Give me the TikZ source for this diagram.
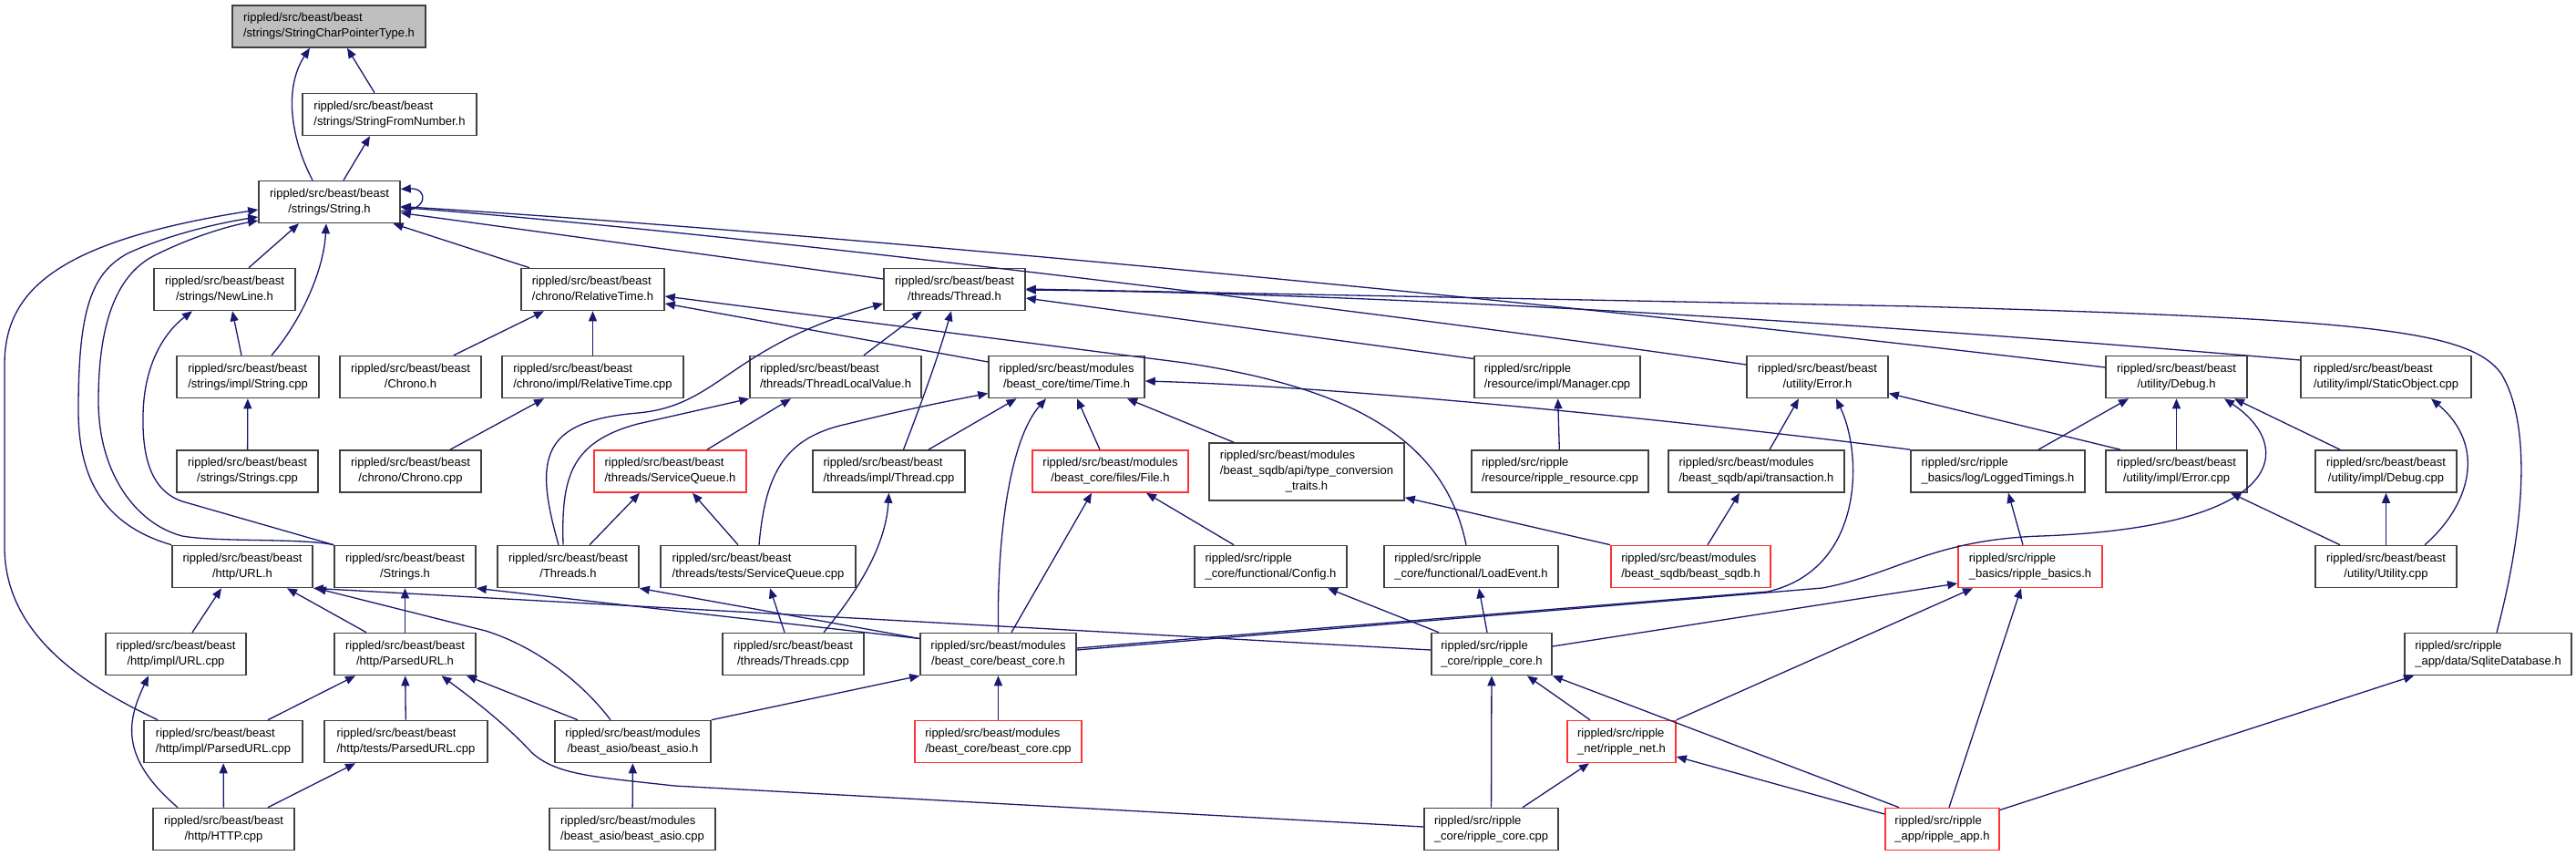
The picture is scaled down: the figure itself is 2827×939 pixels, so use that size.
\documentclass[tikz,border=0pt]{standalone}
\usepackage{fontspec}
\setmainfont{Liberation Sans}
\usetikzlibrary{calc,arrows.meta}
\definecolor{edgeblue}{HTML}{191970}
\definecolor{boxgray}{HTML}{404040}
\definecolor{rootgray}{HTML}{BFBFBF}
\definecolor{boxred}{HTML}{FF3333}
\newcommand\nodefont{\fontsize{13}{17}\selectfont}
\newcommand\nlab[2]{\begin{tabular}{@{}l@{}}#1\\\multicolumn{1}{@{}c@{}}{#2}\end{tabular}}
\newcommand\nlabt[3]{\begin{tabular}{@{}l@{}}#1\\\multicolumn{1}{@{}c@{}}{#2}\\\multicolumn{1}{@{}c@{}}{#3}\end{tabular}}
\tikzset{
  box/.style={draw=boxgray, line width=1.6pt, fill=white, inner xsep=5pt, inner ysep=2pt, minimum height=46pt, font=\nodefont, text=black},
  redbox/.style={box, draw=boxred},
  rootbox/.style={box, fill=rootgray},
  edge/.style={draw=edgeblue, line width=1.3pt, -{Triangle[length=11pt,width=9pt]}}
}
\begin{document}
\begin{tikzpicture}[x=1pt,y=-1pt]
\useasboundingbox (0,0) rectangle (2827,939);
% row 0-3
\node[rootbox, minimum width=212pt] (scpt) at (361,29) {\nlab{rippled/src/beast/beast}{/strings/StringCharPointerType.h}};
\node[box, minimum width=191pt] (sfn) at (427.5,125.5) {\nlab{rippled/src/beast/beast}{/strings/StringFromNumber.h}};
\node[box, minimum width=155pt] (strh) at (361.5,221.5) {\nlab{rippled/src/beast/beast}{/strings/String.h}};
\node[box, minimum width=155pt] (newline) at (246.5,317.5) {\nlab{rippled/src/beast/beast}{/strings/NewLine.h}};
\node[box, minimum width=157pt] (reltime) at (650.5,317.5) {\nlab{rippled/src/beast/beast}{/chrono/RelativeTime.h}};
\node[box, minimum width=155pt] (threadh) at (1047.5,317.5) {\nlab{rippled/src/beast/beast}{/threads/Thread.h}};
% row 4
\node[box, minimum width=156pt] (stringcpp) at (272,413.5) {\nlab{rippled/src/beast/beast}{/strings/impl/String.cpp}};
\node[box, minimum width=155pt] (chronoh) at (450.5,413.5) {\nlab{rippled/src/beast/beast}{/Chrono.h}};
\node[box, minimum width=199pt] (reltimecpp) at (650.5,413.5) {\nlab{rippled/src/beast/beast}{/chrono/impl/RelativeTime.cpp}};
\node[box, minimum width=188pt] (tlv) at (917,413.5) {\nlab{rippled/src/beast/beast}{/threads/ThreadLocalValue.h}};
\node[box, minimum width=171pt] (timeh) at (1170.5,413.5) {\nlab{rippled/src/beast/modules}{/beast\_core/time/Time.h}};
\node[box, minimum width=182pt] (manager) at (1709,413.5) {\nlab{rippled/src/ripple}{/resource/impl/Manager.cpp}};
\node[box, minimum width=155pt] (errorh) at (1994.5,413.5) {\nlab{rippled/src/beast/beast}{/utility/Error.h}};
\node[box, minimum width=155pt] (debugh) at (2388.5,413.5) {\nlab{rippled/src/beast/beast}{/utility/Debug.h}};
\node[box, minimum width=187pt] (staticobj) at (2618.5,413.5) {\nlab{rippled/src/beast/beast}{/utility/impl/StaticObject.cpp}};
% row 5
\node[box, minimum width=155pt] (stringscpp) at (271.5,517) {\nlab{rippled/src/beast/beast}{/strings/Strings.cpp}};
\node[box, minimum width=155pt] (chronocpp) at (450.5,517) {\nlab{rippled/src/beast/beast}{/chrono/Chrono.cpp}};
\node[redbox, minimum width=167pt] (svcqh) at (735.5,517) {\nlab{rippled/src/beast/beast}{/threads/ServiceQueue.h}};
\node[box, minimum width=167pt] (threadcpp) at (975.5,517) {\nlab{rippled/src/beast/beast}{/threads/impl/Thread.cpp}};
\node[redbox, minimum width=171pt] (fileh) at (1218.5,517) {\nlab{rippled/src/beast/modules}{/beast\_core/files/File.h}};
\node[box, minimum width=214pt, minimum height=63pt] (typeconv) at (1434,517.5) {\nlabt{rippled/src/beast/modules}{/beast\_sqdb/api/type\_conversion}{\_traits.h}};
\node[box, minimum width=194pt] (resource) at (1712,517) {\nlab{rippled/src/ripple}{/resource/ripple\_resource.cpp}};
\node[box, minimum width=193pt] (transaction) at (1927.5,517) {\nlab{rippled/src/beast/modules}{/beast\_sqdb/api/transaction.h}};
\node[box, minimum width=191pt] (logged) at (2192.5,517) {\nlab{rippled/src/ripple}{\_basics/log/LoggedTimings.h}};
\node[box, minimum width=155pt] (errorcpp) at (2388.5,517) {\nlab{rippled/src/beast/beast}{/utility/impl/Error.cpp}};
\node[box, minimum width=155pt] (debugcpp) at (2618.5,517) {\nlab{rippled/src/beast/beast}{/utility/impl/Debug.cpp}};
% row 6
\node[box, minimum width=154pt] (urlh) at (266,621.5) {\nlab{rippled/src/beast/beast}{/http/URL.h}};
\node[box, minimum width=155pt] (stringsh) at (444.5,621.5) {\nlab{rippled/src/beast/beast}{/Strings.h}};
\node[box, minimum width=155pt] (threadsh) at (623.5,621.5) {\nlab{rippled/src/beast/beast}{/Threads.h}};
\node[box, minimum width=214pt] (svcqcpp) at (832,621.5) {\nlab{rippled/src/beast/beast}{/threads/tests/ServiceQueue.cpp}};
\node[box, minimum width=167pt] (configh) at (1394.5,621.5) {\nlab{rippled/src/ripple}{\_core/functional/Config.h}};
\node[box, minimum width=191pt] (loadevent) at (1614.5,621.5) {\nlab{rippled/src/ripple}{\_core/functional/LoadEvent.h}};
\node[redbox, minimum width=175pt] (sqdb) at (1855.5,621.5) {\nlab{rippled/src/beast/modules}{/beast\_sqdb/beast\_sqdb.h}};
\node[redbox, minimum width=158pt] (basics) at (2228,621.5) {\nlab{rippled/src/ripple}{\_basics/ripple\_basics.h}};
\node[box, minimum width=155pt] (utility) at (2618.5,621.5) {\nlab{rippled/src/beast/beast}{/utility/Utility.cpp}};
% row 7
\node[box, minimum width=154pt] (urlcpp) at (193,717.5) {\nlab{rippled/src/beast/beast}{/http/impl/URL.cpp}};
\node[box, minimum width=155pt] (parsedurlh) at (444.5,717.5) {\nlab{rippled/src/beast/beast}{/http/ParsedURL.h}};
\node[box, minimum width=155pt] (threadscpp) at (870.5,717.5) {\nlab{rippled/src/beast/beast}{/threads/Threads.cpp}};
\node[box, minimum width=171pt] (corehh) at (1095.5,717.5) {\nlab{rippled/src/beast/modules}{/beast\_core/beast\_core.h}};
\node[box, minimum width=132pt] (ripcoreh) at (1637,717.5) {\nlab{rippled/src/ripple}{\_core/ripple\_core.h}};
\node[box, minimum width=183pt] (sqlite) at (2730.5,717.5) {\nlab{rippled/src/ripple}{\_app/data/SqliteDatabase.h}};
% row 8
\node[box, minimum width=174pt] (parsedcpp) at (245,813.5) {\nlab{rippled/src/beast/beast}{/http/impl/ParsedURL.cpp}};
\node[box, minimum width=179pt] (testparsed) at (445.5,813.5) {\nlab{rippled/src/beast/beast}{/http/tests/ParsedURL.cpp}};
\node[box, minimum width=171pt] (asioh) at (694.5,813.5) {\nlab{rippled/src/beast/modules}{/beast\_asio/beast\_asio.h}};
\node[redbox, minimum width=183pt] (corecpp) at (1095.5,813.5) {\nlab{rippled/src/beast/modules}{/beast\_core/beast\_core.cpp}};
\node[redbox, minimum width=119pt] (ripnet) at (1779.5,813.5) {\nlab{rippled/src/ripple}{\_net/ripple\_net.h}};
% row 9
\node[box, minimum width=155pt] (http) at (245.5,909.5) {\nlab{rippled/src/beast/beast}{/http/HTTP.cpp}};
\node[box, minimum width=182pt] (asiocpp) at (694,909.5) {\nlab{rippled/src/beast/modules}{/beast\_asio/beast\_asio.cpp}};
\node[box, minimum width=147pt] (ripcorecpp) at (1636.5,909.5) {\nlab{rippled/src/ripple}{\_core/ripple\_core.cpp}};
\node[redbox, minimum width=125pt] (ripapp) at (2131.5,909.5) {\nlab{rippled/src/ripple}{\_app/ripple\_app.h}};

% edges
\draw[edge] ($(sfn.north)+(-16.5,0)$) -- ($(scpt.south)+(20,0)$);
\draw[edge] ($(strh.north)+(-18.5,0)$) .. controls (318,150) and (312,95) .. ($(scpt.south)+(-21,0)$);
\draw[edge] ($(strh.north)+(15.5,0)$) -- ($(sfn.south)+(-21.5,0)$);
\draw[edge] ($(strh.east)+(0,10)$) .. controls (470,231) and (470,206) .. ($(strh.east)+(0,-14)$);
\draw[edge] ($(newline.north)+(26.5,0)$) -- ($(strh.south)+(-33.5,0)$);
\draw[edge] ($(stringcpp.north)+(26,0)$) .. controls (328,355) and (355,300) .. ($(strh.south)+(-3.5,0)$);
\draw[edge] ($(reltime.north)+(-69.5,0)$) -- ($(strh.south)+(70,0)$);
\draw[edge] ($(threadh.west)+(0,-11.5)$) -- ($(strh.east)+(0,12)$);
\draw[edge] ($(errorh.west)+(0,-13.5)$) .. controls (1500,340) and (800,255) .. ($(strh.east)+(0,6)$);
\draw[edge] ($(debugh.west)+(0,-10.5)$) .. controls (1700,330) and (900,255) .. ($(strh.east)+(0,5)$);
\draw[edge] ($(chronoh.north)+(47.5,0)$) -- ($(reltime.south)+(-53.5,0)$);
\draw[edge] (reltimecpp) -- (reltime);
\draw[edge] ($(timeh.west)+(0,-16.5)$) -- ($(reltime.east)+(0,15.5)$);
\draw[edge] ($(loadevent.north)+(-5.5,0)$) .. controls (1585,480) and (1480,425) .. (1300,398) -- ($(reltime.east)+(0,7.5)$);
\draw[edge] ($(tlv.north)+(31,0)$) -- ($(threadh.south)+(-35.5,0)$);
\draw[edge] ($(threadcpp.north)+(16,0)$) .. controls (1012,440) and (1030,390) .. ($(threadh.south)+(-3.5,0)$);
\draw[edge] ($(threadsh.north)+(-10.5,0)$) .. controls (585,500) and (595,462) .. (700,453) .. controls (790,445) and (800,380) .. ($(threadh.west)+(0,15.5)$);
\draw[edge] ($(manager.west)+(0,-20)$) -- ($(threadh.east)+(0,9.5)$);
\draw[edge] ($(staticobj.west)+(0,-18.5)$) .. controls (2000,350) and (1500,322) .. ($(threadh.east)+(0,0.5)$);
\draw[edge] ($(sqlite.north)+(9.5,0)$) .. controls (2775,560) and (2775,460) .. (2745,410) .. controls (2710,362) and (2600,350) .. (2100,336) -- ($(threadh.east)+(0,-0.5)$);
\draw[edge] ($(threadcpp.north)+(43.5,0)$) -- ($(timeh.south)+(-55,0)$);
\draw[edge] (corehh.north) .. controls (1094,580) and (1110,480) .. ($(timeh.south)+(-22.5,0)$);
\draw[edge] ($(fileh.north)+(-11.5,0)$) -- ($(timeh.south)+(11.5,0)$);
\draw[edge] ($(typeconv.north)+(-80,0)$) -- ($(timeh.south)+(66.5,0)$);
\draw[edge] ($(svcqcpp.north)+(1,0)$) .. controls (840,520) and (860,480) .. (930,465) .. controls (990,450) and (1040,440) .. ($(timeh.west)+(0,18)$);
\draw[edge] (logged.north west) .. controls (1900,468) and (1500,425) .. ($(timeh.east)+(0,4.5)$);
\draw[edge] ($(svcqh.north)+(40.5,0)$) -- ($(tlv.south)+(-49,0)$);
\draw[edge] ($(threadsh.north)+(-5.5,0)$) .. controls (616,525) and (625,485) .. (700,465) -- (tlv.south west);
\draw[edge] ($(threadsh.north)+(23.5,0)$) -- ($(svcqh.south)+(-33.5,0)$);
\draw[edge] ($(svcqcpp.north)+(-22,0)$) -- ($(svcqh.south)+(24.5,0)$);
\draw[edge] ($(threadscpp.north)+(-9.5,0)$) -- ($(svcqcpp.south)+(13,0)$);
\draw[edge] ($(threadscpp.north)+(33.5,0)$) .. controls (940,650) and (972,600) .. (threadcpp.south);
\draw[edge] ($(corehh.north)+(14.5,0)$) -- ($(fileh.south)+(-20.5,0)$);
\draw[edge] ($(configh.north)+(-40.5,0)$) -- ($(fileh.south)+(39.5,0)$);
\draw[edge] (sqdb.north west) -- ($(typeconv.south east)+(0,-4)$);
\draw[edge] ($(sqdb.north)+(18.5,0)$) -- ($(transaction.south)+(-18.5,0)$);
\draw[edge] ($(transaction.north)+(14.5,0)$) -- ($(errorh.south)+(-20.5,0)$);
\draw[edge] (resource) -- (manager);
\draw[edge] ($(corehh.east)+(0,-6.5)$) -- (1940,649) .. controls (2045,625) and (2045,500) .. ($(errorh.south)+(20.5,0)$);
\draw[edge] ($(corehh.east)+(0,-4.5)$) -- (2000,645) .. controls (2080,630) and (2120,592) .. (2240,588) .. controls (2510,578) and (2520,490) .. ($(debugh.south)+(52.5,0)$);
\draw[edge] ($(logged.north)+(44.5,0)$) -- ($(debugh.south)+(-52.5,0)$);
\draw[edge] (errorcpp) -- (debugh);
\draw[edge] ($(debugcpp.north)+(-50.5,0)$) -- ($(debugh.south)+(63.5,0)$);
\draw[edge] ($(errorcpp.north)+(-61.5,0)$) -- ($(errorh.east)+(0,18)$);
\draw[edge] ($(utility.north)+(-50.5,0)$) -- ($(errorcpp.south)+(59.5,0)$);
\draw[edge] (utility) -- (debugcpp);
\draw[edge] ($(utility.north)+(42.5,0)$) .. controls (2710,555) and (2730,490) .. ($(staticobj.south)+(49.5,0)$);
\draw[edge] ($(basics.north)+(-8,0)$) -- ($(logged.south)+(11.5,0)$);
\draw[edge] ($(ripcoreh.east)+(0,-8.5)$) -- ($(basics.west)+(0,18.5)$);
\draw[edge] (ripnet.north east) -- ($(basics.south)+(-63,0)$);
\draw[edge] ($(ripapp.north)+(7.5,0)$) -- ($(basics.south)+(-10,0)$);
\draw[edge] ($(ripapp.east)+(0,-21)$) -- ($(sqlite.south)+(-81.5,0)$);
\draw[edge] ($(ripcoreh.north)+(-58,0)$) -- ($(configh.south)+(62.5,0)$);
\draw[edge] ($(ripcoreh.north)+(-5,0)$) -- ($(loadevent.south)+(8.5,0)$);
\draw[edge] ($(ripcoreh.west)+(0,-4.5)$) -- (urlh.south east);
\draw[edge] ($(ripnet.north)+(-34.5,0)$) -- ($(ripcoreh.south)+(39,0)$);
\draw[edge] (ripcorecpp) -- (ripcoreh);
\draw[edge] ($(ripapp.north)+(-47.5,0)$) -- (ripcoreh.south east);
\draw[edge] ($(ripcorecpp.north)+(34.5,0)$) -- ($(ripnet.south)+(-35.5,0)$);
\draw[edge] ($(ripapp.west)+(0,-16.5)$) -- ($(ripnet.east)+(0,16.5)$);
\draw[edge] ($(ripcorecpp.west)+(0,-2.5)$) -- (740,862) .. controls (650,852) and (610,850) .. (583,825) .. controls (560,800) and (530,775) .. ($(parsedurlh.south)+(40,0)$);
\draw[edge] ($(parsedcpp.north)+(49,0)$) -- ($(parsedurlh.south)+(-54.5,0)$);
\draw[edge] (testparsed) -- (parsedurlh);
\draw[edge] ($(asioh.north)+(-60.5,0)$) -- ($(parsedurlh.south)+(67.5,0)$);
\draw[edge] (parsedurlh) -- (stringsh);
\draw[edge] ($(parsedurlh.north)+(-42.5,0)$) -- ($(urlh.south)+(49,0)$);
\draw[edge] ($(urlcpp.north)+(18,0)$) -- ($(urlh.south)+(-23,0)$);
\draw[edge] ($(asioh.north)+(-24.5,0)$) .. controls (640,750) and (590,710) .. (533,692) -- ($(urlh.south east)+(3,0)$);
\draw[edge] ($(http.north)+(-50.5,0)$) .. controls (130,830) and (140,790) .. ($(urlcpp.south)+(-30,0)$);
\draw[edge] (http) -- (parsedcpp);
\draw[edge] ($(http.north)+(48.5,0)$) -- ($(testparsed.south)+(-55.5,0)$);
\draw[edge] (asiocpp) -- (asioh);
\draw[edge] (asioh.north east) -- (corehh.south west);
\draw[edge] (corecpp) -- (corehh);
\draw[edge] ($(corehh.west)+(0,-17)$) -- (threadsh.south east);
\draw[edge] ($(corehh.west)+(0,-17)$) -- (stringsh.south east);
\draw[edge] (urlh.north west) .. controls (110,575) and (86,520) .. (86,450) .. controls (86,340) and (100,300) .. (140,278) .. controls (190,255) and (250,243) .. ($(strh.west)+(0,16.5)$);
\draw[edge] (stringsh.north west) .. controls (330,590) and (240,595) .. (200,588) .. controls (150,575) and (108,520) .. (108,440) .. controls (108,350) and (130,300) .. (170,280) .. controls (210,260) and (250,248) .. ($(strh.west)+(0,20.5)$);
\draw[edge] ($(parsedcpp.north west)+(16,0)$) .. controls (100,755) and (5,700) .. (5,600) -- (5,400) .. controls (5,320) and (60,265) .. ($(strh.west)+(0,8.5)$);
\draw[edge] (stringsh.north west) -- (200,550) .. controls (165,538) and (156,500) .. (157,455) .. controls (158,400) and (180,365) .. ($(newline.south)+(-35.5,0)$);
\draw[edge] (stringscpp) -- (stringcpp);
\draw[edge] ($(stringcpp.north)+(-7,0)$) -- ($(newline.south)+(8.5,0)$);
\draw[edge] ($(chronocpp.north)+(43.5,0)$) -- ($(reltimecpp.south)+(-53.5,0)$);
\end{tikzpicture}
\end{document}
